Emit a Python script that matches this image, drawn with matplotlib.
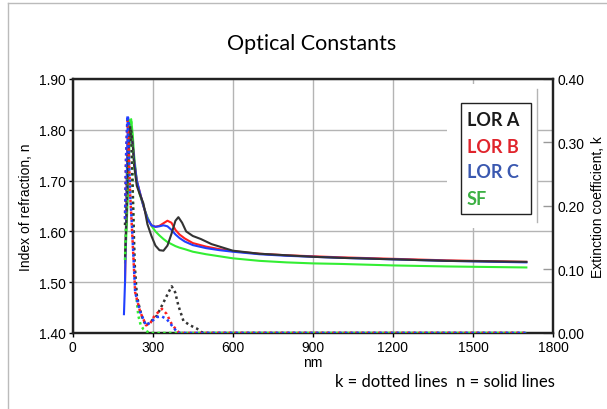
import matplotlib
matplotlib.use('Agg')
import matplotlib.pyplot as plt
from matplotlib.patches import Rectangle
from matplotlib.lines import Line2D

# n (solid) curves, left axis
wl_n_a = [196, 200, 205, 210, 215, 217, 220, 225, 230, 240, 250, 265, 280, 295, 310, 325, 340,
          355, 370, 385, 396, 410, 425, 450, 480, 520, 600, 700, 800, 900, 1000, 1200, 1400, 1700]
n_a = [1.552, 1.600, 1.680, 1.760, 1.800, 1.805, 1.798, 1.770, 1.730, 1.690, 1.675, 1.655, 1.614,
       1.591, 1.572, 1.563, 1.562, 1.572, 1.595, 1.621, 1.628, 1.617, 1.600, 1.591, 1.585, 1.575,
       1.562, 1.556, 1.553, 1.550, 1.548, 1.545, 1.542, 1.540]

wl_n_b = [196, 200, 205, 210, 215, 220, 225, 230, 240, 250, 265, 280, 295, 310, 325, 340, 355,
          370, 385, 400, 420, 450, 500, 550, 600, 700, 800, 900, 1000, 1200, 1400, 1700]
n_b = [1.500, 1.620, 1.760, 1.815, 1.800, 1.790, 1.770, 1.740, 1.700, 1.680, 1.650, 1.625, 1.612,
       1.609, 1.611, 1.616, 1.621, 1.617, 1.603, 1.594, 1.586, 1.577, 1.570, 1.565, 1.561, 1.556,
       1.553, 1.551, 1.549, 1.546, 1.543, 1.540]

wl_n_c = [192, 196, 200, 205, 208, 215, 220, 225, 230, 240, 250, 265, 280, 295, 310, 325, 340,
          355, 370, 385, 400, 420, 450, 500, 550, 600, 700, 800, 900, 1000, 1200, 1400, 1700]
n_c = [1.437, 1.500, 1.620, 1.780, 1.824, 1.800, 1.790, 1.770, 1.740, 1.700, 1.680, 1.650, 1.625,
       1.612, 1.609, 1.610, 1.612, 1.610, 1.603, 1.594, 1.587, 1.580, 1.573, 1.567, 1.563, 1.560,
       1.555, 1.552, 1.550, 1.548, 1.545, 1.542, 1.539]

wl_n_sf = [196, 200, 205, 210, 215, 219, 225, 230, 240, 250, 265, 280, 295, 310, 325, 340, 355,
           370, 385, 400, 420, 450, 500, 550, 600, 700, 800, 900, 1000, 1200, 1400, 1700]
n_sf = [1.539, 1.580, 1.650, 1.730, 1.800, 1.821, 1.790, 1.750, 1.700, 1.675, 1.650, 1.628, 1.611,
        1.600, 1.592, 1.585, 1.579, 1.575, 1.571, 1.568, 1.565, 1.560, 1.555, 1.551, 1.547, 1.542,
        1.539, 1.537, 1.536, 1.533, 1.531, 1.529]

# k (dotted) curves, right axis
wl_k_a = [196, 200, 205, 210, 215, 220, 225, 232, 240, 250, 262, 275, 290, 315, 340, 359, 371,
          384, 396, 415, 440, 465, 484, 500, 1700]
k_a = [0.170, 0.220, 0.280, 0.315, 0.324, 0.300, 0.220, 0.110, 0.060, 0.040, 0.022, 0.012, 0.017,
       0.027, 0.048, 0.064, 0.0735, 0.064, 0.043, 0.019, 0.012, 0.007, 0.001, 0.0, 0.0]

wl_k_b = [196, 200, 205, 210, 215, 222, 234, 253, 275, 290, 305, 321, 334, 352, 371, 390, 400, 1700]
k_b = [0.180, 0.275, 0.335, 0.290, 0.220, 0.165, 0.064, 0.033, 0.012, 0.015, 0.026, 0.033, 0.038,
       0.030, 0.014, 0.004, 0.0, 0.0]

wl_k_c = [196, 200, 205, 210, 215, 222, 234, 253, 275, 295, 315, 334, 352, 371, 390, 400, 1700]
k_c = [0.180, 0.280, 0.342, 0.290, 0.220, 0.169, 0.064, 0.033, 0.012, 0.018, 0.025, 0.026, 0.022,
       0.012, 0.002, 0.0, 0.0]

wl_k_sf = [196, 200, 205, 210, 215, 219, 222, 226, 230, 234, 240, 246, 255, 265, 280, 290, 1700]
k_sf = [0.115, 0.180, 0.250, 0.310, 0.335, 0.337, 0.300, 0.200, 0.120, 0.085, 0.050, 0.027, 0.012,
        0.006, 0.002, 0.0, 0.0]

names = ['LOR A', 'LOR B', 'LOR C', 'SF']
line_colors = ['#333333', '#ff2020', '#2040ff', '#33ee33']
text_colors = ['#1a1a1a', '#e0242c', '#3a58b0', '#3cb043']

x_ticks = [0, 300, 600, 900, 1200, 1500, 1800]
n_ticks = [1.40, 1.50, 1.60, 1.70, 1.80, 1.90]
k_ticks = [0.00, 0.10, 0.20, 0.30, 0.40]

plt.rcParams['font.family'] = ['Liberation Sans', 'DejaVu Sans']

fig = plt.figure(figsize=(6.07, 4.10), dpi=100)
ax = fig.add_axes([0.1198, 0.1854, 0.7913, 0.6195])
ax2 = ax.twinx()

n_sets = [(wl_n_a, n_a), (wl_n_b, n_b), (wl_n_c, n_c), (wl_n_sf, n_sf)]
k_sets = [(wl_k_a, k_a), (wl_k_b, k_b), (wl_k_c, k_c), (wl_k_sf, k_sf)]

# draw order like the original: green under, black on top
for i in [3, 1, 2, 0]:
    ax.plot(*n_sets[i], color=line_colors[i], lw=1.5, solid_joinstyle='round', zorder=3)
for i in [3, 0, 1, 2]:
    ax2.plot(*k_sets[i], color=line_colors[i], lw=1.8, ls=(0, (1, 1.3)), zorder=3)

ax.set_xlim(0, 1800)
ax.set_ylim(1.40, 1.90)
ax2.set_ylim(0, 0.40)
ax.set_xticks(x_ticks)
ax.set_yticks(n_ticks)
ax.set_yticklabels([f'{v:.2f}' for v in n_ticks])
ax2.set_yticks(k_ticks)
ax2.set_yticklabels([f'{v:.2f}' for v in k_ticks])
ax.grid(True, color='#b4b4b4', lw=1.0)
ax.tick_params(axis='both', labelsize=10, length=3, width=1, pad=2, colors='black')
ax2.tick_params(axis='y', labelsize=10, length=7, width=1, direction='in', color='#999999', pad=3)

for a in (ax, ax2):
    for s in a.spines.values():
        s.set_linewidth(1.6)
        s.set_color('#222222')

ax.set_xlabel('nm', fontsize=10, labelpad=1)
ax.set_ylabel('Index of refraction, n', fontsize=10, labelpad=4)
ax2.set_ylabel('Extinction coefficient, k', fontsize=10, labelpad=5)

# white area behind the legend, hiding the grid
ax2.add_patch(Rectangle((0.779, 0.412), 0.188, 0.567, transform=ax2.transAxes,
                        facecolor='white', edgecolor='none', zorder=4))
ax2.add_line(Line2D([0.967, 0.967], [0.437, 0.961], transform=ax2.transAxes,
                    color='#b4b4b4', lw=1.0, zorder=5))
ax2.add_patch(Rectangle((0.808, 0.469), 0.146, 0.437, transform=ax2.transAxes,
                        facecolor='white', edgecolor='#222222', lw=1.0, zorder=6))
legend_y = [0.817, 0.713, 0.614, 0.508]
for name, c, yy in zip(names, text_colors, legend_y):
    ax2.text(0.82, yy, name, transform=ax2.transAxes, color=c, fontsize=13,
             family='Lato', weight='bold', va='baseline', ha='left', zorder=7)

fig.text(311.7 / 607, 1 - 50 / 410, 'Optical Constants', ha='center', va='baseline',
         fontsize=15.5, family='Lato')
fig.text(445 / 607, 1 - 387 / 410, 'k = dotted lines  n = solid lines', ha='center',
         va='baseline', fontsize=12, family='Lato')

# light frame on the top and left edge
fig.add_artist(Line2D([8 / 607, 8 / 607], [0, 1 - 4 / 410], transform=fig.transFigure,
                      color='#bbbbbb', lw=1.0))
fig.add_artist(Line2D([8 / 607, 1], [1 - 4 / 410, 1 - 4 / 410], transform=fig.transFigure,
                      color='#bbbbbb', lw=1.0))

fig.savefig('out.png', dpi=100)
